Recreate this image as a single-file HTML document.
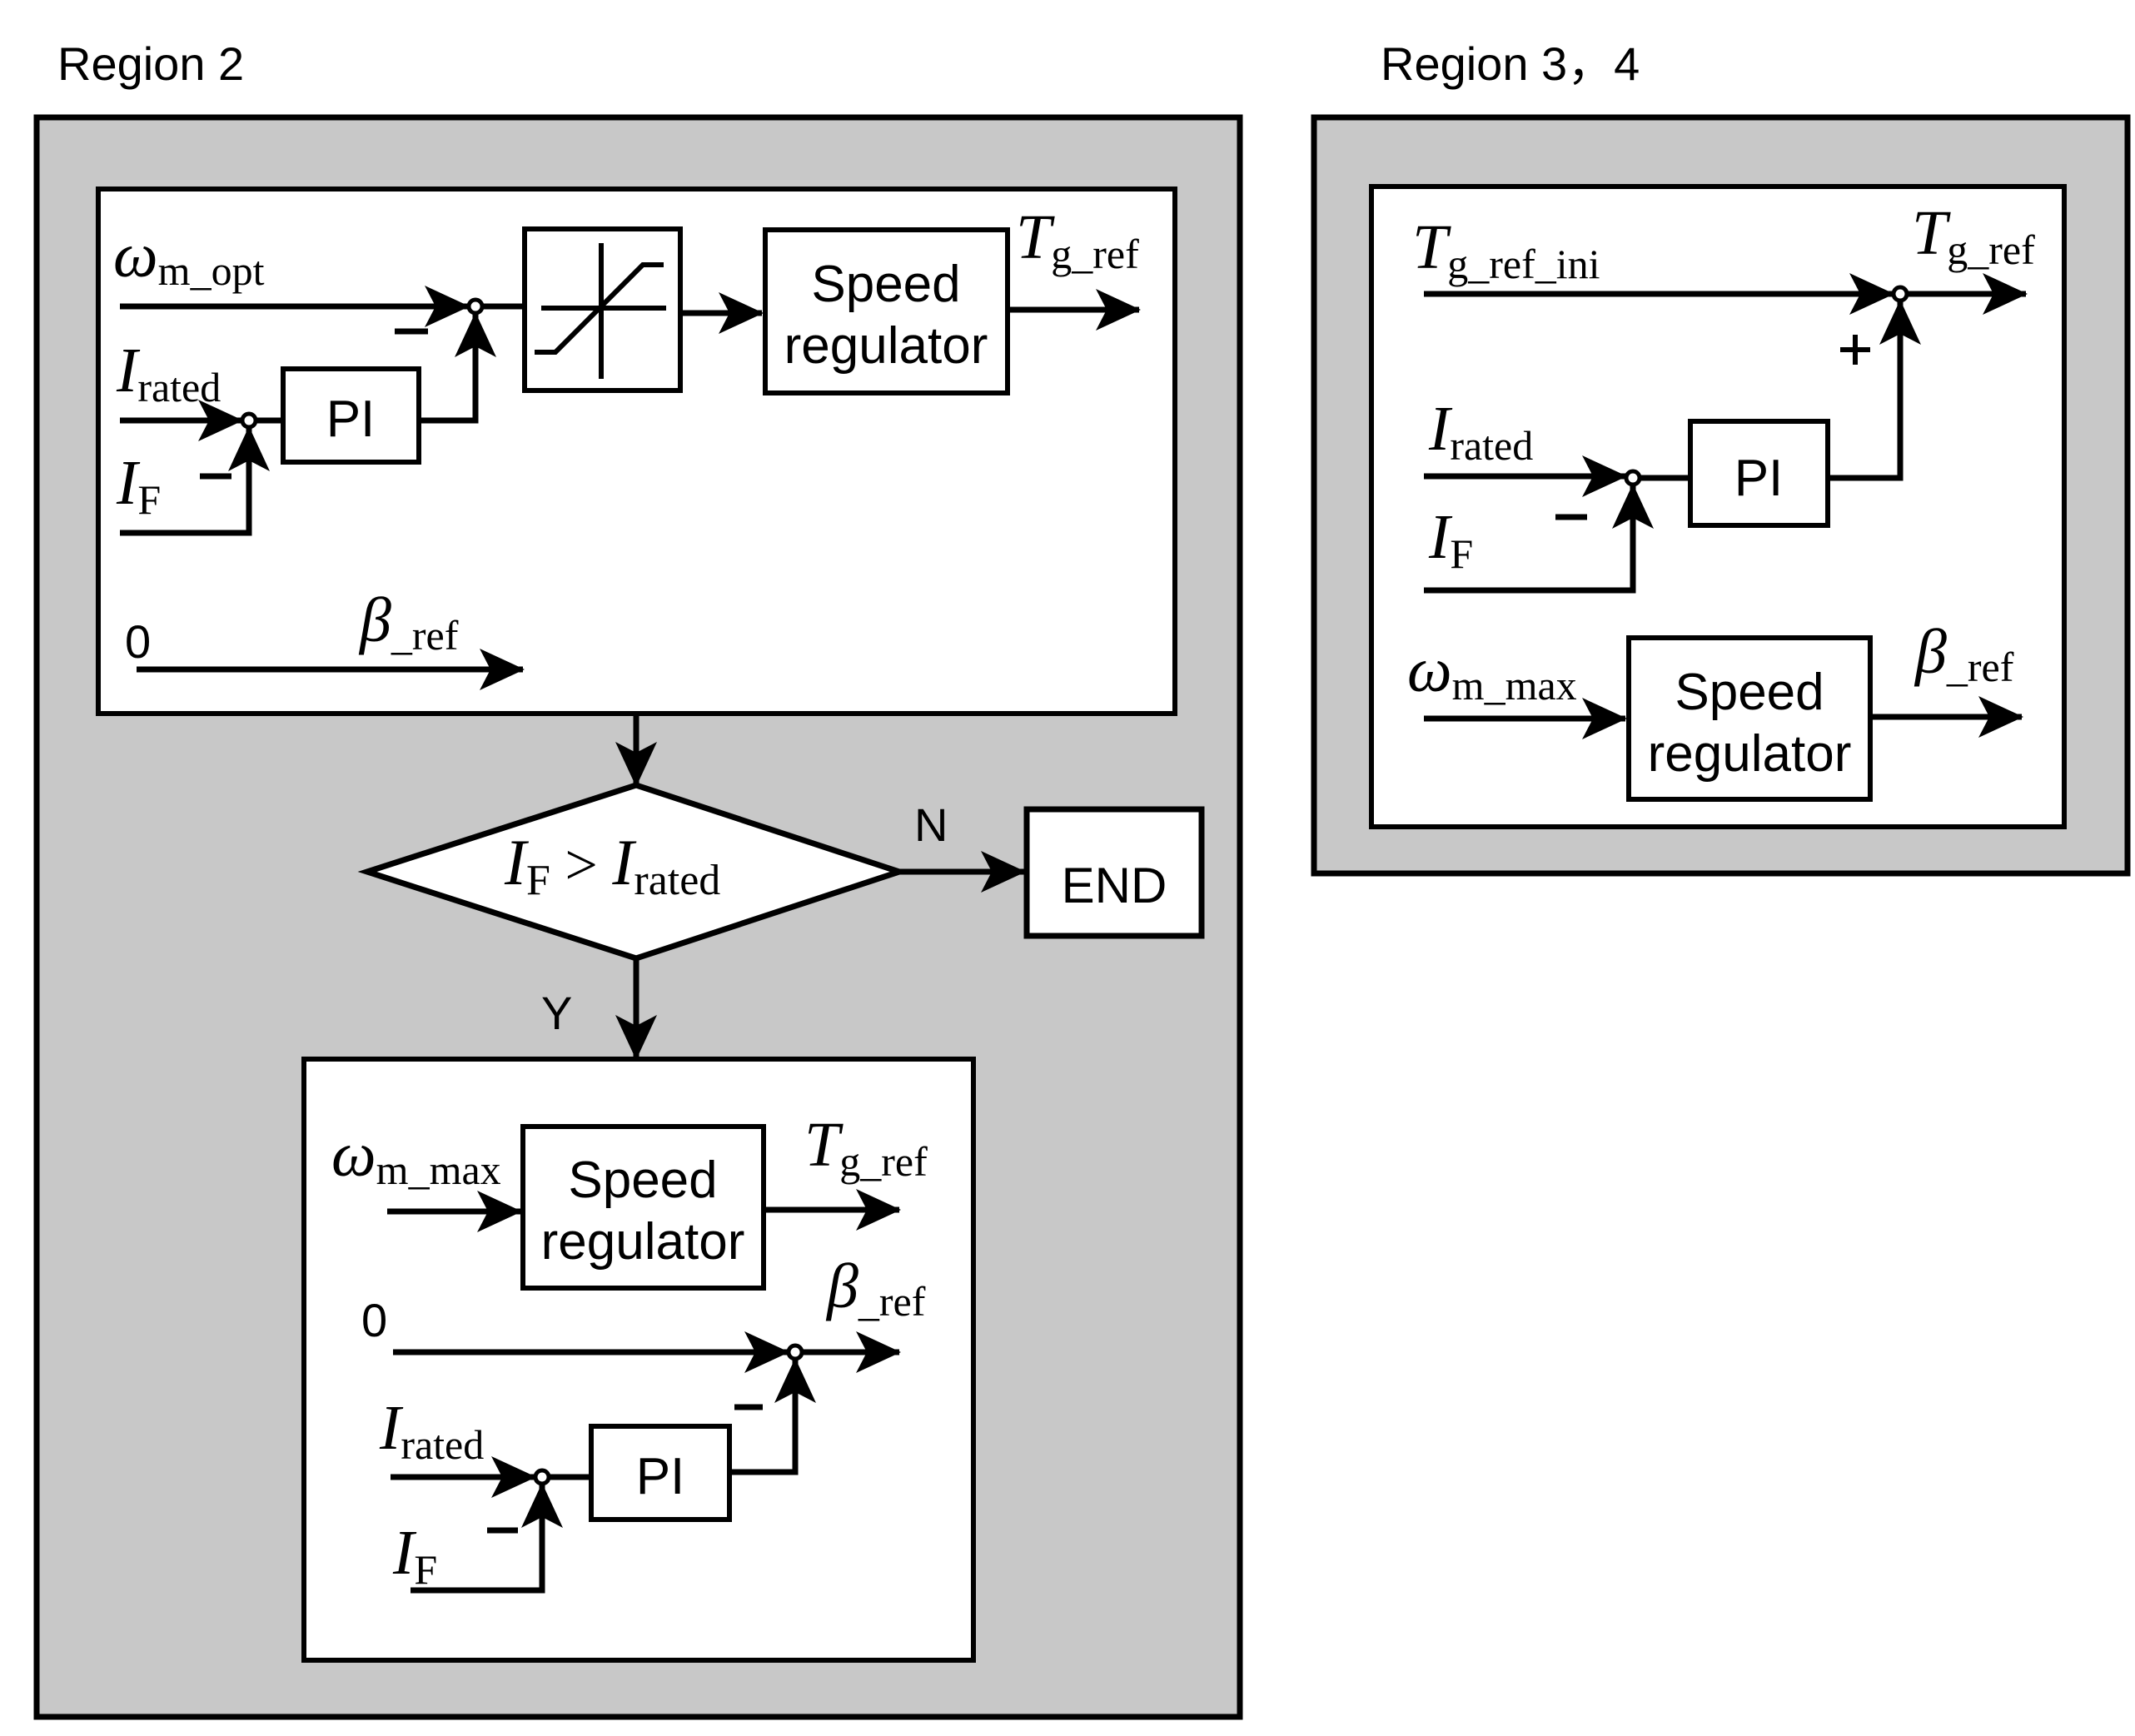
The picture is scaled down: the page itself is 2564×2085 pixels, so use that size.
<!DOCTYPE html>
<html><head><meta charset="utf-8"><style>
html,body{margin:0;padding:0;background:#fff;}
svg{display:block;}
.s{font-family:"Liberation Serif",serif;}
.a{font-family:"Liberation Sans",sans-serif;}
</style></head><body>
<svg width="2564" height="2085" viewBox="0 0 2564 2085" xmlns="http://www.w3.org/2000/svg">
<defs>
<marker id="ar" markerUnits="userSpaceOnUse" markerWidth="60" markerHeight="56" refX="52" refY="28" orient="auto">
<path d="M0,3 L54,28 L0,53 L13,28 Z" fill="#000"/>
</marker>
</defs>
<g stroke="#000" stroke-width="7" fill="none">
<rect x="44" y="141" width="1445" height="1921" fill="#c8c8c8"/>
<rect x="1578" y="141" width="977" height="908" fill="#c8c8c8"/>
<rect x="118" y="227" width="1293" height="630" fill="#fff" stroke-width="6"/>
<rect x="365" y="1272" width="804" height="722" fill="#fff" stroke-width="6"/>
<rect x="1647" y="224" width="832" height="769" fill="#fff" stroke-width="6"/>

<line x1="144" y1="368" x2="562" y2="368" marker-end="url(#ar)"/>
<circle cx="571" cy="368" r="8" stroke-width="5" fill="#fff"/>
<line x1="579" y1="368" x2="630" y2="368"/>
<rect x="630" y="275" width="187" height="194" stroke-width="6"/>
<line x1="650" y1="370" x2="800" y2="370" stroke-width="6"/>
<line x1="722" y1="292" x2="722" y2="455" stroke-width="6"/>
<path d="M642,423 L667,423 L772,318 L797,318" stroke-width="6"/>
<line x1="817" y1="376" x2="915" y2="376" marker-end="url(#ar)"/>
<rect x="919" y="276" width="291" height="196" stroke-width="6"/>
<line x1="1210" y1="372" x2="1368" y2="372" marker-end="url(#ar)"/>
<line x1="144" y1="505" x2="290" y2="505" marker-end="url(#ar)"/>
<circle cx="299" cy="505" r="8" stroke-width="5" fill="#fff"/>
<line x1="307" y1="505" x2="340" y2="505"/>
<rect x="340" y="443" width="163" height="112" stroke-width="6"/>
<path d="M503,505 L571,505 L571,377" marker-end="url(#ar)"/>
<path d="M144,640 L299,640 L299,514" marker-end="url(#ar)"/>
<line x1="164" y1="804" x2="628" y2="804" marker-end="url(#ar)"/>
<line x1="474" y1="398" x2="514" y2="398" stroke-width="7"/>
<line x1="240" y1="572" x2="278" y2="572" stroke-width="7"/>

<line x1="764" y1="857" x2="764" y2="943" marker-end="url(#ar)"/>
<path d="M441,1047 L764,943 L1080,1047 L764,1151 Z" fill="#fff"/>
<line x1="1080" y1="1047" x2="1230" y2="1047" marker-end="url(#ar)"/>
<rect x="1233" y="972" width="210" height="152" fill="#fff"/>
<line x1="764" y1="1151" x2="764" y2="1271" marker-end="url(#ar)"/>

<line x1="465" y1="1455" x2="625" y2="1455" marker-end="url(#ar)"/>
<rect x="628" y="1353" width="289" height="194" stroke-width="6"/>
<line x1="917" y1="1453" x2="1080" y2="1453" marker-end="url(#ar)"/>
<line x1="472" y1="1624" x2="946" y2="1624" marker-end="url(#ar)"/>
<circle cx="955" cy="1624" r="8" stroke-width="5" fill="#fff"/>
<line x1="963" y1="1624" x2="1080" y2="1624" marker-end="url(#ar)"/>
<line x1="469" y1="1774" x2="642" y2="1774" marker-end="url(#ar)"/>
<circle cx="651" cy="1774" r="8" stroke-width="5" fill="#fff"/>
<line x1="659" y1="1774" x2="710" y2="1774"/>
<rect x="710" y="1713" width="166" height="112" stroke-width="6"/>
<path d="M876,1768 L955,1768 L955,1633" marker-end="url(#ar)"/>
<path d="M493,1910 L651,1910 L651,1783" marker-end="url(#ar)"/>
<line x1="882" y1="1690" x2="916" y2="1690" stroke-width="7"/>
<line x1="585" y1="1838" x2="622" y2="1838" stroke-width="7"/>

<line x1="1710" y1="353" x2="2273" y2="353" marker-end="url(#ar)"/>
<circle cx="2282" cy="353" r="8" stroke-width="5" fill="#fff"/>
<line x1="2290" y1="353" x2="2433" y2="353" marker-end="url(#ar)"/>
<line x1="1710" y1="572" x2="1952" y2="572" marker-end="url(#ar)"/>
<circle cx="1961" cy="574" r="8" stroke-width="5" fill="#fff"/>
<line x1="1969" y1="574" x2="2030" y2="574"/>
<rect x="2030" y="506" width="165" height="125" stroke-width="6"/>
<path d="M2195,574 L2282,574 L2282,362" marker-end="url(#ar)"/>
<path d="M1710,709 L1961,709 L1961,583" marker-end="url(#ar)"/>
<line x1="1710" y1="863" x2="1952" y2="863" marker-end="url(#ar)"/>
<rect x="1956" y="766" width="290" height="194" stroke-width="6"/>
<line x1="2246" y1="861" x2="2428" y2="861" marker-end="url(#ar)"/>
<line x1="2210" y1="420" x2="2246" y2="420" stroke-width="6"/>
<line x1="2228" y1="402" x2="2228" y2="438" stroke-width="6"/>
<line x1="1868" y1="621" x2="1906" y2="621" stroke-width="7"/>
</g>

<g fill="#000">
<text x="69" y="96" class="a" font-size="56">Region 2</text>
<text x="1658" y="96" class="a" font-size="56">Region 3，4</text>

<text x="136" y="332" class="s" font-size="76" font-style="italic">ω<tspan font-size="50" font-style="normal" dy="10">m_opt</tspan></text>
<text x="1220" y="310" class="s" font-size="76" font-style="italic">T<tspan font-size="50" font-style="normal" dy="12">g_ref</tspan></text>
<text x="140" y="470" class="s" font-size="76" font-style="italic">I<tspan font-size="50" font-style="normal" dy="12">rated</tspan></text>
<text x="140" y="605" class="s" font-size="76" font-style="italic">I<tspan font-size="50" font-style="normal" dy="12">F</tspan></text>
<text x="150" y="790" class="a" font-size="56">0</text>
<text x="432" y="770" class="s" font-size="76" font-style="italic">β<tspan font-size="50" font-style="normal" dy="10">_ref</tspan></text>
<text x="1064" y="362" class="a" font-size="62" text-anchor="middle">Speed</text>
<text x="1064" y="436" class="a" font-size="62" text-anchor="middle">regulator</text>
<text x="421" y="524" class="a" font-size="62" text-anchor="middle">PI</text>

<text x="606" y="1062" class="s" font-size="78" font-style="italic">I<tspan font-size="52" font-style="normal" dy="12">F</tspan><tspan font-style="normal" dy="-12" font-size="70"> &gt; </tspan>I<tspan font-size="52" font-style="normal" dy="12">rated</tspan></text>
<text x="1098" y="1010" class="a" font-size="56">N</text>
<text x="1338" y="1084" class="a" font-size="60" text-anchor="middle">END</text>
<text x="650" y="1236" class="a" font-size="56">Y</text>

<text x="398" y="1412" class="s" font-size="76" font-style="italic">ω<tspan font-size="50" font-style="normal" dy="10">m_max</tspan></text>
<text x="772" y="1438" class="a" font-size="62" text-anchor="middle">Speed</text>
<text x="772" y="1512" class="a" font-size="62" text-anchor="middle">regulator</text>
<text x="966" y="1400" class="s" font-size="76" font-style="italic">T<tspan font-size="50" font-style="normal" dy="12">g_ref</tspan></text>
<text x="434" y="1605" class="a" font-size="56">0</text>
<text x="993" y="1570" class="s" font-size="76" font-style="italic">β<tspan font-size="50" font-style="normal" dy="10">_ref</tspan></text>
<text x="456" y="1740" class="s" font-size="76" font-style="italic">I<tspan font-size="50" font-style="normal" dy="12">rated</tspan></text>
<text x="793" y="1794" class="a" font-size="62" text-anchor="middle">PI</text>
<text x="472" y="1890" class="s" font-size="76" font-style="italic">I<tspan font-size="50" font-style="normal" dy="12">F</tspan></text>

<text x="1696" y="322" class="s" font-size="76" font-style="italic">T<tspan font-size="50" font-style="normal" dy="12">g_ref_ini</tspan></text>
<text x="2296" y="305" class="s" font-size="76" font-style="italic">T<tspan font-size="50" font-style="normal" dy="12">g_ref</tspan></text>
<text x="1716" y="540" class="s" font-size="76" font-style="italic">I<tspan font-size="50" font-style="normal" dy="12">rated</tspan></text>
<text x="2112" y="595" class="a" font-size="62" text-anchor="middle">PI</text>
<text x="1716" y="670" class="s" font-size="76" font-style="italic">I<tspan font-size="50" font-style="normal" dy="12">F</tspan></text>
<text x="1690" y="830" class="s" font-size="76" font-style="italic">ω<tspan font-size="50" font-style="normal" dy="10">m_max</tspan></text>
<text x="2101" y="852" class="a" font-size="62" text-anchor="middle">Speed</text>
<text x="2101" y="926" class="a" font-size="62" text-anchor="middle">regulator</text>
<text x="2300" y="808" class="s" font-size="76" font-style="italic">β<tspan font-size="50" font-style="normal" dy="10">_ref</tspan></text>
</g>
</svg>
</body></html>
